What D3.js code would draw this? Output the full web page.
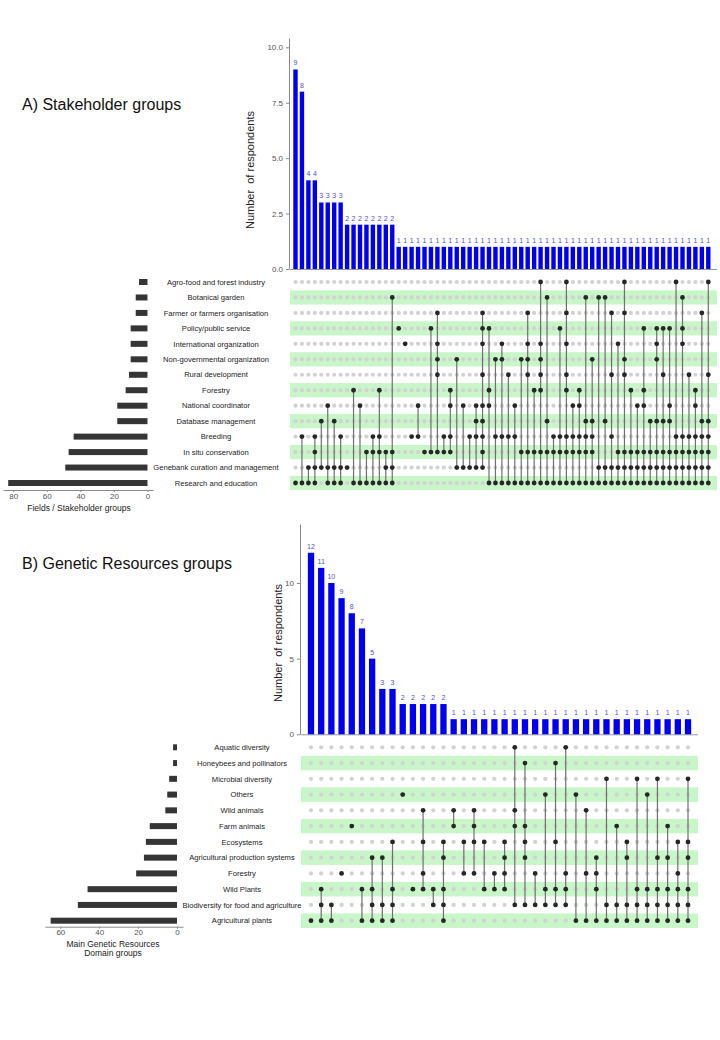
<!DOCTYPE html>
<html>
<head>
<meta charset="utf-8">
<script src="https://cdn.jsdelivr.net/npm/d3@7"></script>
<style>
body { margin: 0; background: #fff; }
text { font-family: "Liberation Sans", Arial, sans-serif; }
</style>
</head>
<body>
<script>

// ---- A) Stakeholder groups ----
var setsA = ["Agro-food and forest industry", "Botanical garden", "Farmer or farmers organisation",
  "Policy/public service", "International organization", "Non-governmental organization",
  "Rural development", "Forestry", "National coordinator", "Database management", "Breeding",
  "In situ conservation", "Genebank curation and management", "Research and education"];
var setSizesA = [5, 7, 7, 10, 10, 10, 11, 13, 18, 18, 44, 47, 49, 83];
var countsA = [9, 8, 4, 4, 3, 3, 3, 3, 2, 2, 2, 2, 2, 2, 2, 2,
  1, 1, 1, 1, 1, 1, 1, 1, 1, 1, 1, 1, 1, 1, 1, 1, 1, 1, 1, 1, 1, 1, 1, 1, 1,
  1, 1, 1, 1, 1, 1, 1, 1, 1, 1, 1, 1, 1, 1, 1, 1, 1, 1, 1, 1, 1, 1, 1, 1];
var membersA = [[13], [10,13], [12,13], [10,11,12,13], [9,12], [8,12,13], [9,12,13], [10,12,13],
  [12], [7,13], [8,13], [11,13], [10,11,13], [7,10,11,13], [11,12,13], [1,11,12,13],
  [3], [4], [10], [8,10], [11], [3,11], [2,4,5,6,11], [10,11], [7,8,10,11], [5,12], [8,12],
  [10,12], [8,9,10,12], [2,3,4,6,8,9,10,11,12], [3,7,8,13], [5,10,13], [4,5,10,13], [6,10,13],
  [8,10,13], [5,11,13], [2,4,5,6,11,13], [7,11,13], [0,4,5,6,7,11,13], [1,9,11,13], [10,11,13],
  [3,10,11,13], [0,2,4,6,7,10,11,13], [8,10,11,13], [7,8,10,11,13], [1,9,10,11,13],
  [5,9,10,11,13], [1,12,13], [1,9,12,13], [2,6,10,12,13], [4,11,12,13], [0,2,5,6,11,12,13],
  [7,11,12,13], [8,11,12,13], [3,7,8,11,12,13], [9,11,12,13], [3,4,5,9,11,12,13],
  [3,6,9,11,12,13], [3,8,9,11,12,13], [0,10,11,12,13], [1,3,4,10,11,12,13], [6,10,11,12,13],
  [7,8,10,11,12,13], [2,9,10,11,12,13], [0,6,9,10,11,12,13]];
var barTicksA = [0, 2.5, 5, 7.5, 10];
var sizeTicksA = [0, 20, 40, 60, 80];

// ---- B) Genetic Resources groups ----
var setsB = ["Aquatic diversity", "Honeybees and pollinators", "Microbial diversity", "Others",
  "Wild animals", "Farm animals", "Ecosystems", "Agricultural production systems", "Forestry",
  "Wild Plants", "Biodiversity for food and agriculture", "Agricultural plants"];
var setSizesB = [2, 2, 4, 5, 6, 14, 16, 17, 21, 46, 51, 65];
var countsB = [12, 11, 10, 9, 8, 7, 5, 3, 3, 2, 2, 2, 2, 2,
  1, 1, 1, 1, 1, 1, 1, 1, 1, 1, 1, 1, 1, 1, 1, 1, 1, 1, 1, 1, 1, 1, 1, 1];
var membersB = [[11], [9,10,11], [10,11], [8], [5], [9,11], [7,9,10,11], [7,10,11],
  [6,9,10,11], [3], [9], [4,6,8,9], [9,10], [6,7,9,10,11], [4,5], [6,8], [4,5,6,8], [6,9],
  [8,9], [6,7,8,9], [0,4,5,10], [1,5,6,7,10], [8,10], [3,9,10], [1,6,9,10], [0,8,9,10],
  [3,11], [4,8,11], [7,8,9,11], [2,10,11], [5,10,11], [6,7,10,11], [2,9,10,11], [3,9,10,11],
  [2,7,9,10,11], [5,7,9,10,11], [6,8,9,10,11], [2,6,7,9,10,11]];
var barTicksB = [0, 5, 10];
var sizeTicksB = [0, 20, 40, 60];

var svg = d3.select("body").append("svg")
  .attr("width", 720)
  .attr("height", 1040);

function upset(o) {
  var g = svg.append("g");
  var cols = d3.range(o.counts.length);
  var rows = d3.range(o.sets.length);

  var x = d3.scalePoint().domain(cols).range([o.c0, o.c1]);
  var yr = d3.scalePoint().domain(rows).range([o.r0, o.r1]);
  var y = d3.scaleLinear().domain([0, o.yMax]).range([o.base, o.top]);
  var rowStep = yr.step();

  // intersection bars
  g.append("line")
    .attr("x1", o.stripe0).attr("x2", o.stripe1)
    .attr("y1", o.base + 0.5).attr("y2", o.base + 0.5)
    .attr("stroke", "#9a9a9a").attr("stroke-width", 1);

  g.selectAll("rect.bar")
    .data(o.counts)
    .enter()
    .append("rect")
    .attr("class", "bar")
    .attr("x", function(d, i) { return x(i) - o.barW / 2; })
    .attr("y", function(d) { return y(d); })
    .attr("width", o.barW)
    .attr("height", function(d) { return y(0) - y(d); })
    .attr("fill", "#0000f0");

  g.selectAll("text.cnt")
    .data(o.counts)
    .enter()
    .append("text")
    .attr("class", "cnt")
    .attr("x", function(d, i) { return x(i); })
    .attr("y", function(d) { return y(d) - 4; })
    .attr("text-anchor", "middle")
    .attr("font-size", 7)
    .attr("fill", "#5050d8")
    .text(function(d) { return d; });

  var ax = g.append("g")
    .attr("transform", "translate(" + o.axisX + ",0)")
    .call(d3.axisLeft(y).tickValues(o.barTicks).tickFormat(o.fmt).tickSize(3).tickSizeOuter(0));
  ax.select(".domain").attr("stroke", "#8a8a8a");
  ax.selectAll(".tick line").attr("stroke", "#8a8a8a");
  ax.selectAll(".tick text").attr("font-size", 8).attr("fill", "#555")
    .attr("font-family", "Liberation Sans");

  g.append("text")
    .attr("transform", "translate(" + o.ylabX + "," + o.ylabY + ") rotate(-90)")
    .attr("text-anchor", "middle")
    .attr("font-family", "Open Sans")
    .attr("font-size", 11)
    .attr("fill", "#222")
    .attr("xml:space", "preserve")
    .text("Number  of respondents");

  // matrix stripes
  g.selectAll("rect.stripe")
    .data(rows.filter(function(r) { return r % 2 == 1; }))
    .enter()
    .append("rect")
    .attr("class", "stripe")
    .attr("x", o.stripe0)
    .attr("y", function(r) { return yr(r) - rowStep * 0.46; })
    .attr("width", o.stripe1 - o.stripe0)
    .attr("height", rowStep * 0.92)
    .attr("fill", "#c8f6c8");

  // dots
  var cells = [];
  cols.forEach(function(c) {
    rows.forEach(function(r) {
      cells.push({c: c, r: r, on: o.members[c].indexOf(r) >= 0});
    });
  });

  g.selectAll("circle.off")
    .data(cells.filter(function(d) { return !d.on; }))
    .enter()
    .append("circle")
    .attr("class", "off")
    .attr("cx", function(d) { return x(d.c); })
    .attr("cy", function(d) { return yr(d.r); })
    .attr("r", o.dotR)
    .attr("fill", "#d2d2d2");

  g.selectAll("line.link")
    .data(cols.filter(function(c) { return o.members[c].length > 1; }))
    .enter()
    .append("line")
    .attr("class", "link")
    .attr("x1", function(c) { return x(c); })
    .attr("x2", function(c) { return x(c); })
    .attr("y1", function(c) { return yr(d3.min(o.members[c])); })
    .attr("y2", function(c) { return yr(d3.max(o.members[c])); })
    .attr("stroke", "#707070")
    .attr("stroke-width", 1.2);

  g.selectAll("circle.on")
    .data(cells.filter(function(d) { return d.on; }))
    .enter()
    .append("circle")
    .attr("class", "on")
    .attr("cx", function(d) { return x(d.c); })
    .attr("cy", function(d) { return yr(d.r); })
    .attr("r", o.dotR + 0.3)
    .attr("fill", "#262626");

  // set size bars
  var xs = d3.scaleLinear().domain(o.sizeDom).range([o.sizeR, o.sizeL]);
  g.selectAll("rect.size")
    .data(o.sizes)
    .enter()
    .append("rect")
    .attr("class", "size")
    .attr("x", function(d) { return xs(d); })
    .attr("y", function(d, i) { return yr(i) - 3; })
    .attr("width", function(d) { return xs(0) - xs(d); })
    .attr("height", 6)
    .attr("fill", "#353535");

  var sx = g.append("g")
    .attr("transform", "translate(0," + o.sizeAxisY + ")")
    .call(d3.axisBottom(xs).tickValues(o.sizeTicks).tickSize(2).tickPadding(1).tickSizeOuter(0));
  sx.select(".domain").attr("stroke", "#8a8a8a");
  sx.selectAll(".tick line").attr("stroke", "#8a8a8a");
  sx.selectAll(".tick text").attr("font-size", 8).attr("fill", "#555")
    .attr("font-family", "Liberation Sans");

  g.selectAll("text.ttl")
    .data(o.sizeTitle)
    .enter()
    .append("text")
    .attr("class", "ttl")
    .attr("x", o.sizeTitleX)
    .attr("y", function(d, i) { return o.sizeTitleY + i * 9; })
    .attr("text-anchor", "middle")
    .attr("font-size", 8.5)
    .attr("fill", "#222")
    .text(function(d) { return d; });

  g.selectAll("text.setlab")
    .data(o.sets)
    .enter()
    .append("text")
    .attr("class", "setlab")
    .attr("x", o.labX)
    .attr("y", function(d, i) { return yr(i) + 2.7; })
    .attr("text-anchor", "middle")
    .attr("font-size", 7.6)
    .attr("fill", "#222")
    .text(function(d) { return d; });

  svg.append("text")
    .attr("x", o.titleX)
    .attr("y", o.titleY)
    .attr("font-family", "Open Sans")
    .attr("font-size", 16)
    .attr("fill", "#111")
    .text(o.title);
}

upset({
  title: "A) Stakeholder groups", titleX: 22, titleY: 110,
  sets: setsA, sizes: setSizesA, counts: countsA, members: membersA,
  barTicks: barTicksA, fmt: d3.format(".1f"), sizeTicks: sizeTicksA,
  c0: 295.5, c1: 708.3, r0: 282, r1: 483, barW: 4.4, dotR: 2.1,
  base: 269, top: 38, yMax: 10.42, axisX: 289, ylabX: 254, ylabY: 170,
  stripe0: 290, stripe1: 717,
  sizeDom: [-3.3, 86.1], sizeL: 3, sizeR: 153, sizeAxisY: 490,
  sizeTitle: ["Fields / Stakeholder groups"], sizeTitleX: 79, sizeTitleY: 511,
  labX: 216
});

upset({
  title: "B) Genetic Resources groups", titleX: 22, titleY: 569,
  sets: setsB, sizes: setSizesB, counts: countsB, members: membersB,
  barTicks: barTicksB, fmt: d3.format("d"), sizeTicks: sizeTicksB,
  c0: 311, c1: 688, r0: 747.3, r1: 920.7, barW: 6.3, dotR: 2.1,
  base: 734.3, top: 524, yMax: 13.9, axisX: 300, ylabX: 282, ylabY: 643,
  stripe0: 301, stripe1: 698,
  sizeDom: [-3.1, 67.9], sizeL: 45, sizeR: 183, sizeAxisY: 926.7,
  sizeTitle: ["Main Genetic Resources", "Domain groups"], sizeTitleX: 113, sizeTitleY: 947,
  labX: 242
});

</script>
</body>
</html>
